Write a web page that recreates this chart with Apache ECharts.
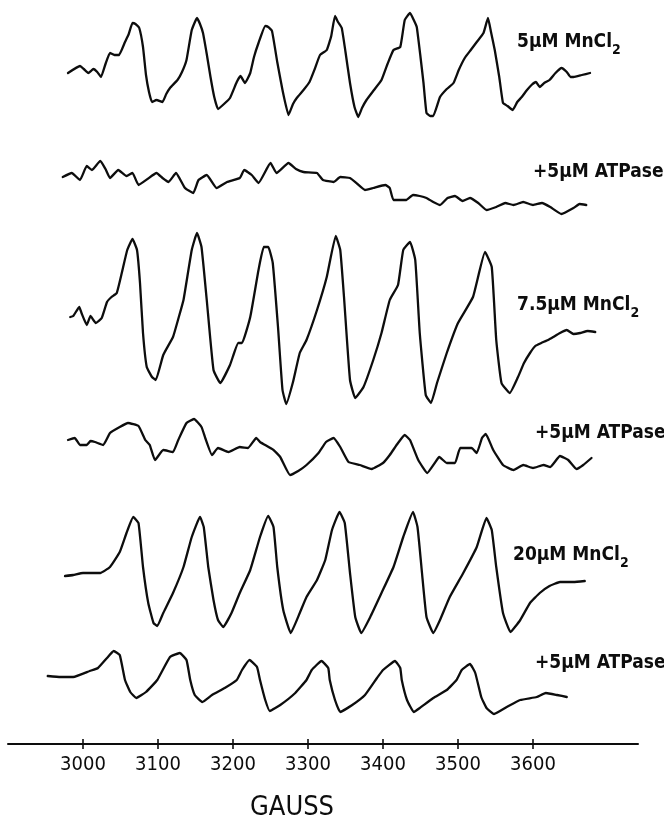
<!DOCTYPE html>
<html><head><meta charset="utf-8">
<script src="https://cdn.jsdelivr.net/npm/echarts@6/dist/echarts.min.js"></script>
<style>html,body{margin:0;padding:0;background:#fff}#c{width:664px;height:826px}</style>
</head><body><div id="c"></div>
<script>
// Field (gauss) and relative signal amplitude
const mn5 = [[2980,-1],[2996,6],[3001,3],[3007,-1],[3014,3],[3019,0],[3024,-5],[3030,8],[3036,19],[3042,17],[3048,17],[3056,30],[3061,38],[3066,49],[3070,48],[3075,44],[3080,25],[3084,-3],[3088,-20],[3092,-30],[3098,-28],[3106,-30],[3111,-22],[3116,-16],[3126,-8],[3132,0],[3138,12],[3145,42],[3152,54],[3156,48],[3160,39],[3165,18],[3170,-5],[3175,-25],[3180,-37],[3188,-32],[3196,-26],[3205,-10],[3210,-4],[3216,-11],[3223,-1],[3228,15],[3234,29],[3243,46],[3247,45],[3252,41],[3259,10],[3266,-18],[3274,-43],[3280,-32],[3285,-26],[3294,-18],[3302,-10],[3309,3],[3316,17],[3325,22],[3331,36],[3336,56],[3340,50],[3345,44],[3350,20],[3356,-11],[3362,-35],[3367,-45],[3372,-36],[3378,-28],[3388,-18],[3398,-8],[3406,8],[3414,22],[3423,25],[3429,52],[3436,59],[3441,52],[3445,45],[3450,15],[3454,-11],[3458,-41],[3463,-44],[3467,-44],[3476,-25],[3485,-17],[3494,-11],[3501,2],[3509,14],[3517,22],[3525,30],[3534,39],[3540,54],[3544,40],[3549,22],[3555,-5],[3560,-31],[3566,-34],[3573,-38],[3579,-30],[3585,-25],[3592,-18],[3598,-13],[3604,-10],[3609,-15],[3615,-11],[3622,-8],[3630,-1],[3638,4],[3645,0],[3650,-5],[3654,-5],[3665,-3],[3676,-1]];
const atp1 = [[2973,0],[2985,4],[2996,-3],[3005,11],[3012,7],[3023,16],[3030,8],[3036,-1],[3047,7],[3058,1],[3066,4],[3074,-8],[3086,-2],[3098,4],[3106,-1],[3114,-5],[3124,4],[3136,-11],[3147,-16],[3154,-3],[3165,2],[3178,-11],[3192,-5],[3209,-1],[3215,7],[3225,2],[3234,-6],[3250,14],[3258,4],[3274,14],[3284,8],[3294,5],[3312,4],[3320,-3],[3334,-5],[3343,0],[3356,-1],[3366,-7],[3376,-13],[3387,-11],[3403,-8],[3409,-11],[3414,-23],[3431,-23],[3440,-18],[3449,-19],[3458,-21],[3467,-25],[3476,-28],[3486,-21],[3496,-19],[3506,-24],[3516,-21],[3527,-26],[3538,-33],[3551,-30],[3563,-26],[3574,-28],[3587,-25],[3600,-28],[3612,-26],[3623,-30],[3638,-37],[3654,-31],[3662,-27],[3671,-28]];
const mn75 = [[2983,-1],[2987,0],[2995,9],[2998,3],[3005,-9],[3010,0],[3017,-7],[3025,-2],[3032,14],[3038,19],[3045,23],[3052,44],[3059,66],[3066,77],[3072,66],[3076,33],[3080,-17],[3085,-51],[3092,-61],[3097,-64],[3107,-39],[3120,-21],[3127,-3],[3134,16],[3145,66],[3152,83],[3158,69],[3165,16],[3174,-54],[3183,-67],[3196,-49],[3207,-27],[3212,-27],[3223,-1],[3234,46],[3241,69],[3247,69],[3253,53],[3260,-11],[3266,-74],[3271,-88],[3280,-66],[3289,-37],[3298,-24],[3312,6],[3325,39],[3337,80],[3343,66],[3348,19],[3356,-64],[3363,-82],[3374,-71],[3387,-44],[3398,-17],[3409,16],[3420,31],[3427,66],[3436,74],[3443,56],[3449,-17],[3457,-79],[3464,-87],[3472,-67],[3485,-37],[3500,-7],[3520,19],[3536,64],[3545,49],[3551,-24],[3558,-67],[3569,-77],[3580,-61],[3588,-47],[3596,-37],[3603,-30],[3611,-27],[3620,-24],[3627,-21],[3636,-17],[3645,-14],[3654,-18],[3663,-17],[3673,-15],[3683,-16]];
const atp2 = [[2980,5],[2989,7],[2996,0],[3005,0],[3010,4],[3016,3],[3027,0],[3036,12],[3049,18],[3060,22],[3074,19],[3083,5],[3089,0],[3096,-15],[3107,-5],[3120,-7],[3127,5],[3138,22],[3148,26],[3158,18],[3163,7],[3172,-10],[3180,-3],[3194,-7],[3209,-2],[3220,-3],[3231,7],[3236,3],[3254,-5],[3263,-12],[3276,-30],[3287,-26],[3298,-20],[3314,-8],[3324,3],[3334,7],[3343,-2],[3354,-17],[3369,-20],[3385,-24],[3400,-18],[3409,-10],[3420,2],[3429,10],[3436,5],[3447,-15],[3459,-28],[3469,-18],[3475,-12],[3485,-18],[3496,-18],[3503,-3],[3518,-3],[3525,-8],[3532,7],[3537,11],[3547,-5],[3560,-20],[3574,-25],[3587,-20],[3600,-23],[3614,-20],[3623,-22],[3636,-11],[3647,-15],[3658,-24],[3667,-20],[3678,-13]];
const mn20 = [[2976,-1],[2987,0],[3000,2],[3023,2],[3036,8],[3049,23],[3058,42],[3067,58],[3074,52],[3080,8],[3087,-28],[3094,-48],[3099,-51],[3107,-38],[3120,-18],[3134,8],[3145,38],[3156,58],[3161,48],[3167,8],[3174,-25],[3180,-45],[3187,-52],[3198,-38],[3209,-18],[3223,5],[3236,38],[3247,59],[3254,48],[3259,8],[3267,-35],[3277,-58],[3289,-38],[3298,-22],[3312,-5],[3323,15],[3332,45],[3342,63],[3349,52],[3356,2],[3363,-42],[3371,-58],[3383,-42],[3398,-18],[3414,8],[3427,38],[3440,63],[3446,48],[3452,2],[3458,-42],[3467,-58],[3476,-45],[3489,-22],[3507,2],[3525,28],[3538,57],[3545,45],[3551,8],[3560,-38],[3570,-57],[3583,-45],[3596,-28],[3609,-18],[3622,-11],[3636,-7],[3654,-7],[3669,-6]];
const atp3 = [[2953,1],[2970,0],[2987,0],[3009,6],[3020,9],[3032,19],[3041,26],[3049,22],[3056,-3],[3063,-15],[3071,-21],[3084,-15],[3099,-3],[3116,20],[3129,24],[3138,17],[3143,-3],[3149,-18],[3159,-25],[3172,-18],[3189,-11],[3205,-3],[3212,7],[3222,17],[3232,10],[3236,-3],[3243,-23],[3249,-34],[3263,-28],[3283,-16],[3298,-3],[3305,7],[3318,16],[3327,9],[3329,-3],[3336,-23],[3343,-35],[3359,-28],[3376,-18],[3392,-1],[3400,7],[3416,16],[3423,9],[3425,-3],[3432,-23],[3441,-35],[3449,-31],[3467,-21],[3485,-13],[3498,-3],[3505,7],[3516,13],[3523,4],[3531,-20],[3538,-31],[3548,-37],[3565,-30],[3583,-23],[3605,-20],[3617,-16],[3632,-18],[3645,-20]];

const tickLabels = [3000, 3100, 3200, 3300, 3400, 3500, 3600];
const traceNames = ['5μM MnCl', '+5μM ATPase', '7.5μM MnCl', '+5μM ATPase', '20μM MnCl', '+5μM ATPase'];
const traceSubs = ['2', '', '2', '', '2', ''];
const axisTitle = 'GAUSS';

const traces = [mn5, atp1, mn75, atp2, mn20, atp3];
// layout (pixels): baseline of each trace and position of its label
const baseY = [72, 177, 316, 445, 575, 677];
const labX = [517, 533, 517, 535, 513, 535];
const labY = [42, 172, 305, 433, 555, 663];

const FONT = '"DejaVu Sans Condensed", "Liberation Sans Narrow", sans-serif';
const INK = '#0d0d0d';
const L = 8, R = 26;

const grid = [], xAxis = [], yAxis = [], series = [];
traces.forEach((d, i) => {
  const H = Math.min(100, baseY[i] - 2);
  grid.push({left: L, right: R, top: baseY[i] - H, height: 2 * H});
  xAxis.push({type: 'value', gridIndex: i, min: 2900, max: 3740, show: false});
  yAxis.push({type: 'value', gridIndex: i, min: -H, max: H, show: false});
  series.push({type: 'line', xAxisIndex: i, yAxisIndex: i, data: d, showSymbol: false,
    smooth: 0.12, lineStyle: {color: INK, width: 2.3, join: 'round', cap: 'round'}, silent: true});
});
// axis grid
const gi = traces.length;
grid.push({left: L, right: R, top: 700, height: 44});
yAxis.push({type: 'value', gridIndex: gi, min: 0, max: 1, show: false});
yAxis.push({type: 'value', gridIndex: gi, min: 0, max: 1, show: false});
xAxis.push({type: 'value', gridIndex: gi, min: 2900, max: 3740, position: 'bottom',
  axisLine: {show: true, lineStyle: {color: INK, width: 2}},
  axisTick: {show: true, customValues: tickLabels, length: 5, inside: false, lineStyle: {color: INK, width: 1.6}},
  axisLabel: {show: true, customValues: tickLabels, margin: 11, color: INK, fontSize: 20, fontFamily: FONT,
    formatter: v => String(v)},
  splitLine: {show: false}});
xAxis.push({type: 'value', gridIndex: gi, min: 2900, max: 3740, position: 'bottom',
  axisLine: {show: false},
  axisTick: {show: true, customValues: tickLabels, length: 5, inside: true, lineStyle: {color: INK, width: 1.6}},
  axisLabel: {show: false}, splitLine: {show: false}});
series.push({type: 'line', xAxisIndex: gi, yAxisIndex: gi, data: []});
series.push({type: 'line', xAxisIndex: gi + 1, yAxisIndex: gi + 1, data: []});

const graphic = traceNames.map((t, i) => ({
  type: 'text', x: labX[i], y: labY[i],
  style: {
    text: '{t|' + t + '}' + (traceSubs[i] ? '{s|' + traceSubs[i] + '}' : ''),
    verticalAlign: 'middle', align: 'left',
    rich: {
      t: {fontSize: 19, fontWeight: 'bold', fontFamily: FONT, fill: INK, color: INK},
      s: {fontSize: 14, fontWeight: 'bold', fontFamily: FONT, fill: INK, color: INK, padding: [17, 0, 0, 0]}
    }
  }
}));
graphic.push({type: 'text', x: 292, y: 808, style: {text: axisTitle, align: 'center', verticalAlign: 'middle',
  fontSize: 27, fontFamily: FONT, fill: INK}});

const chart = echarts.init(document.getElementById('c'), null, {renderer: 'canvas'});
chart.setOption({animation: false, backgroundColor: '#fff', grid, xAxis, yAxis, series, graphic});
</script></body></html>
